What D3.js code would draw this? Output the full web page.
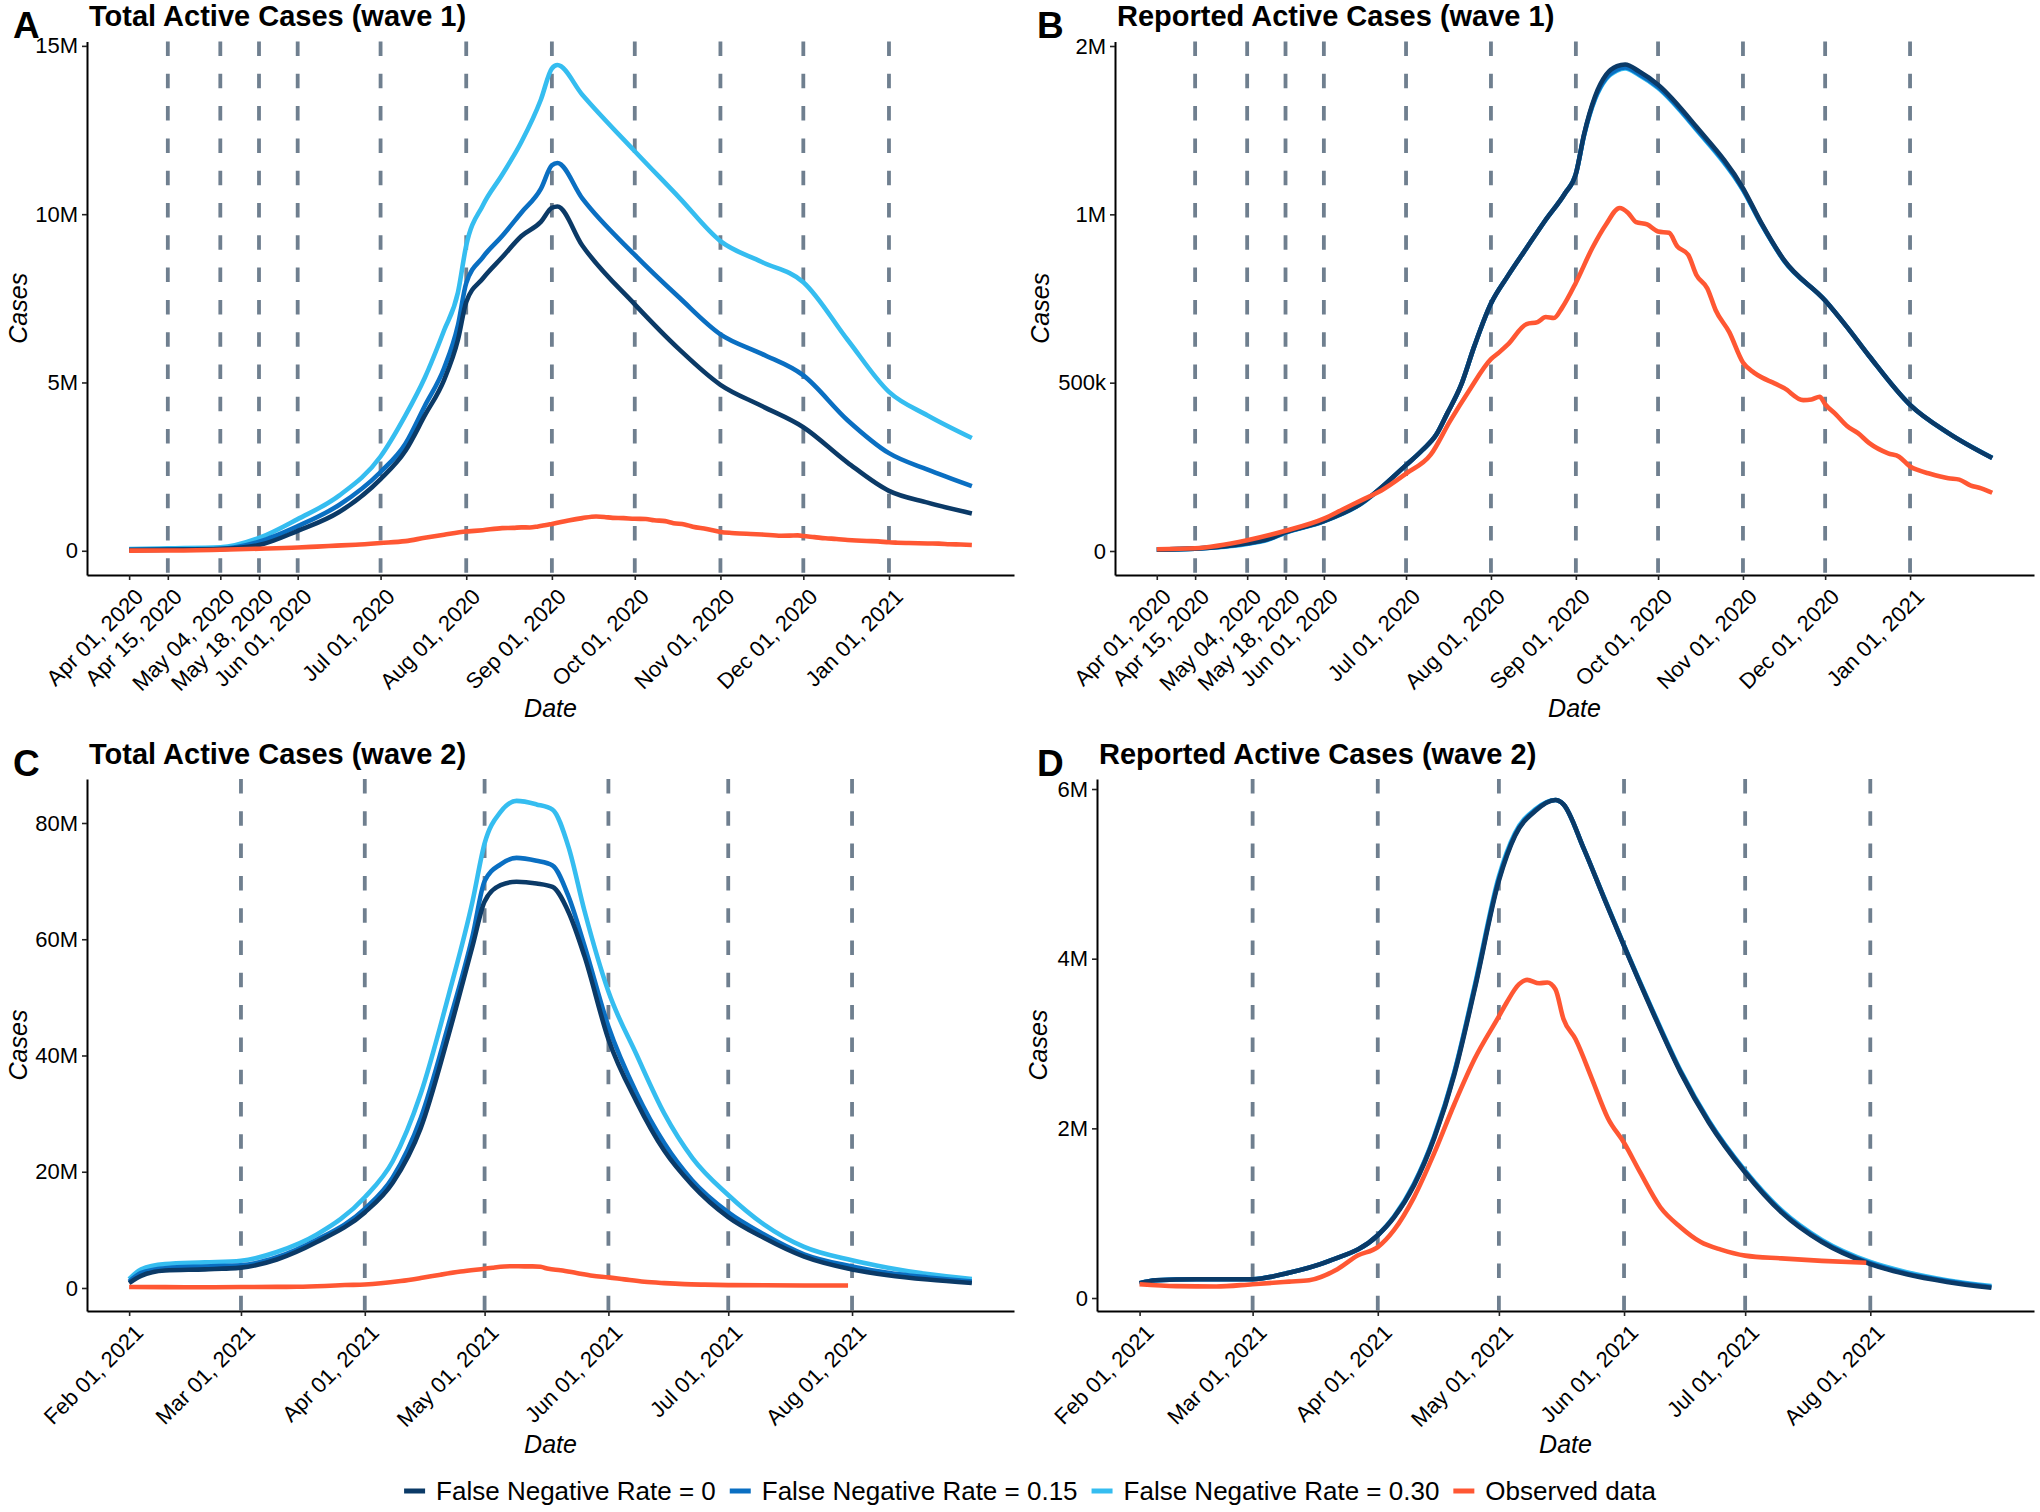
<!DOCTYPE html>
<html>
<head>
<meta charset="utf-8">
<script src="https://cdn.jsdelivr.net/npm/d3@7"></script>
<style>
  body { margin: 0; background: #fff; }
  svg { display: block; font-family: "Liberation Sans", Arial, Helvetica, sans-serif; }
</style>
</head>
<body>
<svg id="chart" width="2040" height="1512"></svg>
<script>
// ---------- data (values in millions of cases) ----------

var wave1Range = ["2020-04-01", "2021-01-31"];
var wave2Range = ["2021-02-01", "2021-08-31"];

var wave1Ticks = ["2020-04-01", "2020-04-15", "2020-05-04", "2020-05-18", "2020-06-01", "2020-07-01",
  "2020-08-01", "2020-09-01", "2020-10-01", "2020-11-01", "2020-12-01", "2021-01-01"];
var wave1Changes = ["2020-04-15", "2020-05-04", "2020-05-18", "2020-06-01", "2020-07-01",
  "2020-08-01", "2020-09-01", "2020-10-01", "2020-11-01", "2020-12-01", "2021-01-01"];
var wave2Ticks = ["2021-02-01", "2021-03-01", "2021-04-01", "2021-05-01", "2021-06-01", "2021-07-01", "2021-08-01"];
var wave2Changes = ["2021-03-01", "2021-04-01", "2021-05-01", "2021-06-01", "2021-07-01", "2021-08-01"];

// panel A: total active cases, wave 1
var totalW1Dates = ["2020-04-01", "2020-04-15", "2020-05-04", "2020-05-18", "2020-06-01", "2020-06-16",
  "2020-07-01", "2020-07-10", "2020-07-17", "2020-07-24", "2020-07-29", "2020-08-01", "2020-08-07",
  "2020-08-14", "2020-08-21", "2020-08-28", "2020-09-01", "2020-09-03", "2020-09-12", "2020-10-01",
  "2020-10-17", "2020-11-01", "2020-11-16", "2020-12-01", "2020-12-17", "2021-01-01", "2021-01-15", "2021-01-31"];
var totalW1Fnr0 = [0.02, 0.03, 0.05, 0.17, 0.59, 1.15, 2.13, 2.97, 4.02, 5.08, 6.27, 7.39, 8.09,
  8.72, 9.35, 9.77, 10.19, 10.23, 9.07, 7.32, 5.99, 4.93, 4.30, 3.67, 2.62, 1.78, 1.43, 1.11];
var totalW1Fnr15 = [0.03, 0.04, 0.06, 0.27, 0.73, 1.36, 2.34, 3.18, 4.30, 5.43, 6.70, 7.95, 8.72,
  9.35, 10.05, 10.75, 11.45, 11.52, 10.47, 8.79, 7.53, 6.43, 5.85, 5.21, 3.88, 2.90, 2.41, 1.92];
var totalW1Fnr30 = [0.05, 0.07, 0.10, 0.38, 0.94, 1.64, 2.80, 4.02, 5.14, 6.55, 7.67, 9.07, 10.26,
  11.17, 12.15, 13.40, 14.33, 14.43, 13.55, 11.87, 10.50, 9.20, 8.58, 7.98, 6.27, 4.72, 4.02, 3.35];

// panel B: reported active cases, wave 1
var reportedW1Dates = ["2020-04-01", "2020-04-15", "2020-05-04", "2020-05-11", "2020-05-18", "2020-06-01",
  "2020-06-14", "2020-07-01", "2020-07-07", "2020-07-12", "2020-07-16", "2020-07-21", "2020-07-26",
  "2020-08-01", "2020-08-07", "2020-08-14", "2020-08-21", "2020-08-28", "2020-09-01", "2020-09-04",
  "2020-09-08", "2020-09-12", "2020-09-16", "2020-09-19", "2020-09-24", "2020-10-01", "2020-10-15",
  "2020-11-01", "2020-11-08", "2020-11-16", "2020-12-01", "2020-12-09", "2020-12-17", "2021-01-01",
  "2021-01-15", "2021-01-31"];
var reportedW1Fnr0 = [0.004, 0.007, 0.023, 0.034, 0.056, 0.089, 0.138, 0.255, 0.300, 0.345, 0.408, 0.491, 0.610,
  0.735, 0.815, 0.900, 0.984, 1.062, 1.120, 1.238, 1.350, 1.414, 1.440, 1.445, 1.425, 1.385, 1.260,
  1.078, 0.970, 0.864, 0.744, 0.665, 0.580, 0.434, 0.350, 0.276];
var reportedW1Fnr15 = [0.004, 0.007, 0.022, 0.033, 0.055, 0.089, 0.138, 0.255, 0.300, 0.345, 0.408, 0.491, 0.610,
  0.735, 0.815, 0.900, 0.984, 1.062, 1.120, 1.236, 1.345, 1.405, 1.430, 1.436, 1.417, 1.378, 1.254,
  1.074, 0.968, 0.863, 0.744, 0.665, 0.580, 0.434, 0.350, 0.276];
var reportedW1Fnr30 = [0.004, 0.007, 0.021, 0.032, 0.054, 0.088, 0.137, 0.255, 0.300, 0.345, 0.408, 0.491, 0.610,
  0.735, 0.815, 0.900, 0.984, 1.062, 1.120, 1.235, 1.342, 1.402, 1.427, 1.433, 1.414, 1.375, 1.251,
  1.072, 0.967, 0.862, 0.744, 0.665, 0.580, 0.434, 0.350, 0.277];

// observed active cases, wave 1 (panels A and B)
var observedW1Dates = ["2020-04-01", "2020-04-15", "2020-05-04", "2020-05-18", "2020-06-01", "2020-06-08",
  "2020-06-15", "2020-06-22", "2020-07-01", "2020-07-10", "2020-07-17", "2020-07-24", "2020-08-01",
  "2020-08-04", "2020-08-07", "2020-08-14", "2020-08-18", "2020-08-21", "2020-08-24", "2020-08-27",
  "2020-09-01", "2020-09-07", "2020-09-12", "2020-09-17", "2020-09-20", "2020-09-23", "2020-09-27",
  "2020-10-01", "2020-10-05", "2020-10-08", "2020-10-12", "2020-10-15", "2020-10-19", "2020-10-22",
  "2020-10-27", "2020-11-01", "2020-11-05", "2020-11-08", "2020-11-12", "2020-11-16",
  "2020-11-23", "2020-11-26", "2020-11-29", "2020-12-01", "2020-12-05", "2020-12-09", "2020-12-13",
  "2020-12-17", "2020-12-24", "2020-12-28", "2021-01-01", "2021-01-04", "2021-01-08", "2021-01-15",
  "2021-01-19", "2021-01-23", "2021-01-27", "2021-01-31"];
var observedW1 = [0.005, 0.008, 0.032, 0.060, 0.096, 0.124, 0.152, 0.180, 0.230, 0.286, 0.385, 0.476, 0.570,
  0.590, 0.612, 0.674, 0.680, 0.695, 0.692, 0.723, 0.797, 0.900, 0.970, 1.019, 1.005, 0.977, 0.970,
  0.949, 0.945, 0.905, 0.880, 0.820, 0.780, 0.716, 0.650, 0.560, 0.530, 0.515, 0.500, 0.484,
  0.448, 0.450, 0.458, 0.436, 0.405, 0.371, 0.350, 0.321, 0.290, 0.280, 0.251, 0.240, 0.230, 0.216,
  0.212, 0.195, 0.186, 0.173];

// panel C: total active cases, wave 2
var totalW2Dates = ["2021-02-01", "2021-02-04", "2021-02-10", "2021-02-20", "2021-03-01", "2021-03-10",
  "2021-03-20", "2021-04-01", "2021-04-08", "2021-04-15", "2021-04-22", "2021-04-28", "2021-05-01",
  "2021-05-05", "2021-05-09", "2021-05-14", "2021-05-18", "2021-05-22", "2021-05-26", "2021-06-01",
  "2021-06-08", "2021-06-15", "2021-06-22", "2021-07-01", "2021-07-10", "2021-07-20", "2021-08-01",
  "2021-08-10", "2021-08-20", "2021-08-31"];
var totalW2Fnr0 = [0.85, 2.1, 3.0, 3.2, 3.5, 4.9, 7.9, 13.0, 18.1, 27.5, 43.6, 58.9, 66.5,
  69.3, 69.9, 69.6, 69.0, 64.7, 57.1, 42.8, 32.1, 23.6, 17.7, 12.2, 8.6, 5.4, 3.2, 2.2, 1.45, 0.85];
var totalW2Fnr15 = [1.1, 2.6, 3.4, 3.7, 3.9, 5.3, 8.3, 13.6, 19.0, 29.2, 45.4, 60.6, 70.0,
  72.9, 74.0, 73.5, 72.7, 67.4, 58.9, 45.0, 33.6, 24.9, 18.5, 13.0, 9.2, 5.8, 3.7, 2.6, 1.8, 1.1];
var totalW2Fnr30 = [1.53, 3.2, 4.1, 4.4, 4.7, 6.2, 9.2, 15.6, 21.8, 33.4, 50.4, 66.6, 76.5,
  81.9, 83.8, 83.2, 82.3, 75.9, 64.9, 51.0, 40.2, 30.0, 22.4, 16.0, 10.9, 7.06, 4.76, 3.49, 2.38, 1.53];

// panel D: reported active cases, wave 2
var reportedW2Dates = ["2021-02-01", "2021-02-05", "2021-02-15", "2021-03-01", "2021-03-10", "2021-03-20",
  "2021-04-01", "2021-04-05", "2021-04-10", "2021-04-15", "2021-04-20", "2021-04-25", "2021-05-01",
  "2021-05-05", "2021-05-10", "2021-05-15", "2021-05-17", "2021-05-22", "2021-05-27", "2021-06-01",
  "2021-06-08", "2021-06-15", "2021-06-22", "2021-07-01", "2021-07-10", "2021-07-20", "2021-08-01",
  "2021-08-10", "2021-08-20", "2021-08-31"];
var reportedW2Fnr0 = [0.175, 0.21, 0.222, 0.222, 0.298, 0.438, 0.74, 0.95, 1.33, 1.886, 2.64, 3.64, 4.92,
  5.45, 5.74, 5.87, 5.82, 5.30, 4.72, 4.15, 3.38, 2.66, 2.07, 1.48, 1.01, 0.66, 0.40, 0.28, 0.19, 0.12];
var reportedW2Fnr15 = [0.175, 0.21, 0.222, 0.222, 0.298, 0.438, 0.74, 0.95, 1.34, 1.90, 2.66, 3.66, 4.94,
  5.46, 5.75, 5.87, 5.82, 5.30, 4.72, 4.15, 3.39, 2.67, 2.08, 1.49, 1.02, 0.67, 0.41, 0.29, 0.20, 0.13];
var reportedW2Fnr30 = [0.175, 0.21, 0.222, 0.222, 0.298, 0.438, 0.74, 0.96, 1.35, 1.91, 2.67, 3.68, 4.97,
  5.48, 5.76, 5.87, 5.82, 5.30, 4.73, 4.16, 3.40, 2.68, 2.09, 1.50, 1.035, 0.685, 0.425, 0.305, 0.21, 0.14];

// observed active cases, wave 2 (panels C and D)
var observedW2Dates = ["2021-02-01", "2021-02-10", "2021-02-20", "2021-03-01", "2021-03-10", "2021-03-15",
  "2021-03-22", "2021-03-27", "2021-04-01", "2021-04-05", "2021-04-10", "2021-04-15", "2021-04-20",
  "2021-04-25", "2021-05-01", "2021-05-03", "2021-05-06", "2021-05-08", "2021-05-11", "2021-05-13",
  "2021-05-15", "2021-05-17", "2021-05-20", "2021-05-24", "2021-05-28", "2021-06-01", "2021-06-05",
  "2021-06-10", "2021-06-15", "2021-06-20", "2021-06-25", "2021-07-01", "2021-07-10", "2021-07-20", "2021-07-31"];
var observedW2 = [0.163, 0.140, 0.135, 0.163, 0.193, 0.210, 0.340, 0.500, 0.600, 0.800, 1.19, 1.71, 2.29,
  2.82, 3.32, 3.49, 3.70, 3.75, 3.71, 3.72, 3.64, 3.29, 3.05, 2.59, 2.12, 1.83, 1.48,
  1.07, 0.835, 0.66, 0.57, 0.50, 0.467, 0.438, 0.415];

var legendLabels = ["False Negative Rate = 0", "False Negative Rate = 0.15", "False Negative Rate = 0.30", "Observed data"];
var seriesColors = ["#0b3a67", "#0a6fc2", "#35bdf0", "#ff5733"];

// ---------- drawing ----------
var parse = d3.utcParse("%Y-%m-%d");
var fmtTick = d3.utcFormat("%b %d, %Y");
var svg = d3.select("#chart");

var panels = [
  { tag: "A", title: "Total Active Cases (wave 1)", left: 87, right: 1014, top: 41.5, bottom: 575, tagX: 13,
    range: wave1Range, ticks: wave1Ticks, changes: wave1Changes, yDomain: [-0.72, 15.13],
    yTicks: [0, 5, 10, 15], yLabels: ["0", "5M", "10M", "15M"], casesX: 18,
    series: [[totalW1Dates, totalW1Fnr30, 2], [totalW1Dates, totalW1Fnr15, 1], [totalW1Dates, totalW1Fnr0, 0], [observedW1Dates, observedW1, 3]] },
  { tag: "B", title: "Reported Active Cases (wave 1)", left: 1115, right: 2034, top: 41.5, bottom: 575, tagX: 1037,
    range: wave1Range, ticks: wave1Ticks, changes: wave1Changes, yDomain: [-0.0713, 1.5134],
    yTicks: [0, 0.5, 1, 1.5], yLabels: ["0", "500k", "1M", "2M"], casesX: 1040,
    series: [[reportedW1Dates, reportedW1Fnr30, 2], [reportedW1Dates, reportedW1Fnr15, 1], [reportedW1Dates, reportedW1Fnr0, 0], [observedW1Dates, observedW1, 3]] },
  { tag: "C", title: "Total Active Cases (wave 2)", left: 87, right: 1014, top: 779, bottom: 1311, tagX: 13,
    range: wave2Range, ticks: wave2Ticks, changes: wave2Changes, yDomain: [-3.96, 87.57],
    yTicks: [0, 20, 40, 60, 80], yLabels: ["0", "20M", "40M", "60M", "80M"], casesX: 18,
    series: [[totalW2Dates, totalW2Fnr30, 2], [totalW2Dates, totalW2Fnr15, 1], [totalW2Dates, totalW2Fnr0, 0], [observedW2Dates, observedW2, 3]] },
  { tag: "D", title: "Reported Active Cases (wave 2)", left: 1097, right: 2034, top: 779, bottom: 1311, tagX: 1037,
    range: wave2Range, ticks: wave2Ticks, changes: wave2Changes, yDomain: [-0.153, 6.118],
    yTicks: [0, 2, 4, 6], yLabels: ["0", "2M", "4M", "6M"], casesX: 1038,
    series: [[reportedW2Dates, reportedW2Fnr30, 2], [reportedW2Dates, reportedW2Fnr15, 1], [reportedW2Dates, reportedW2Fnr0, 0], [observedW2Dates, observedW2, 3]] }
];

panels.forEach(function(p) {
  var g = svg.append("g");
  var start = parse(p.range[0]), end = parse(p.range[1]);
  var pad = (end - start) * 0.05;
  var x = d3.scaleUtc()
    .domain([new Date(+start - pad), new Date(+end + pad)])
    .range([p.left, p.right]);
  var y = d3.scaleLinear().domain(p.yDomain).range([p.bottom, p.top]);

  // dashed lines at the change points
  g.selectAll(".change").data(p.changes).enter()
    .append("line").attr("class", "change")
    .attr("x1", function(d) { return x(parse(d)); })
    .attr("x2", function(d) { return x(parse(d)); })
    .attr("y1", p.top).attr("y2", p.bottom)
    .style("stroke", "#6f7f8f").style("stroke-width", 3.8)
    .style("stroke-dasharray", "14.5,17.8");

  var line = d3.line()
    .x(function(d) { return x(d[0]); })
    .y(function(d) { return y(d[1]); })
    .curve(d3.curveMonotoneX);

  p.series.forEach(function(s) {
    var pts = s[0].map(function(d, i) { return [parse(d), s[1][i]]; });
    g.append("path").datum(pts)
      .attr("d", line)
      .style("fill", "none")
      .style("stroke", seriesColors[s[2]])
      .style("stroke-width", 4.6)
      .style("stroke-linejoin", "round");
  });

  // y axis
  var yAxis = g.append("g").attr("transform", "translate(" + p.left + ",0)")
    .call(d3.axisLeft(y).tickValues(p.yTicks)
      .tickFormat(function(d, i) { return p.yLabels[i]; })
      .tickSize(5).tickSizeOuter(0).tickPadding(4));

  // x axis
  var xAxis = g.append("g").attr("transform", "translate(0," + p.bottom + ")")
    .call(d3.axisBottom(x).tickValues(p.ticks.map(parse))
      .tickFormat(fmtTick).tickSize(5).tickSizeOuter(0));

  [yAxis, xAxis].forEach(function(a) {
    a.select(".domain").attr("stroke", "#000").attr("stroke-width", 2);
    a.selectAll(".tick line").attr("stroke", "#222").attr("stroke-width", 1.6);
    a.selectAll(".tick text").attr("fill", "#000")
      .style("font-size", "22px").style("font-family", "'Liberation Sans', Arial, sans-serif");
  });
  xAxis.selectAll(".tick text")
    .attr("x", 0).attr("y", 0).attr("dy", "0.71em")
    .attr("text-anchor", "end")
    .attr("transform", "translate(4,12) rotate(-45)");

  // titles
  g.append("text").attr("x", p.tagX).attr("y", p.top - 3.5)
    .style("font-size", "37px").style("font-weight", "bold").text(p.tag);
  g.append("text").attr("x", p.left + 2).attr("y", p.top - 15.5)
    .style("font-size", "29px").style("font-weight", "bold").text(p.title);
  g.append("text")
    .attr("x", (p.left + p.right) / 2).attr("y", p.bottom + 142)
    .attr("text-anchor", "middle")
    .style("font-size", "25px").style("font-style", "italic").text("Date");
  g.append("text")
    .attr("transform", "translate(" + (p.casesX + 9) + "," + ((p.top + p.bottom) / 2) + ") rotate(-90)")
    .attr("text-anchor", "middle")
    .style("font-size", "25px").style("font-style", "italic").text("Cases");
});

// legend
var legend = svg.append("g").attr("transform", "translate(0,1491)");
var items = legend.selectAll(".item").data(legendLabels).enter()
  .append("g").attr("class", "item");
items.append("line")
  .attr("x1", 0).attr("x2", 21).attr("y1", 0).attr("y2", 0)
  .style("stroke", function(d, i) { return seriesColors[i]; })
  .style("stroke-width", 5);
items.append("text")
  .attr("x", 32).attr("y", 0).attr("dy", "0.35em")
  .style("font-size", "26px").text(function(d) { return d; });
var widths = [];
items.select("text").each(function() { widths.push(this.getComputedTextLength()); });
var total = d3.sum(widths) + widths.length * 32 + (widths.length - 1) * 14;
var cx = 1030 - total / 2;
items.attr("transform", function(d, i) {
  var off = cx;
  for (var k = 0; k < i; k++) off += 32 + widths[k] + 14;
  return "translate(" + off + ",0)";
});
</script>
</body>
</html>
